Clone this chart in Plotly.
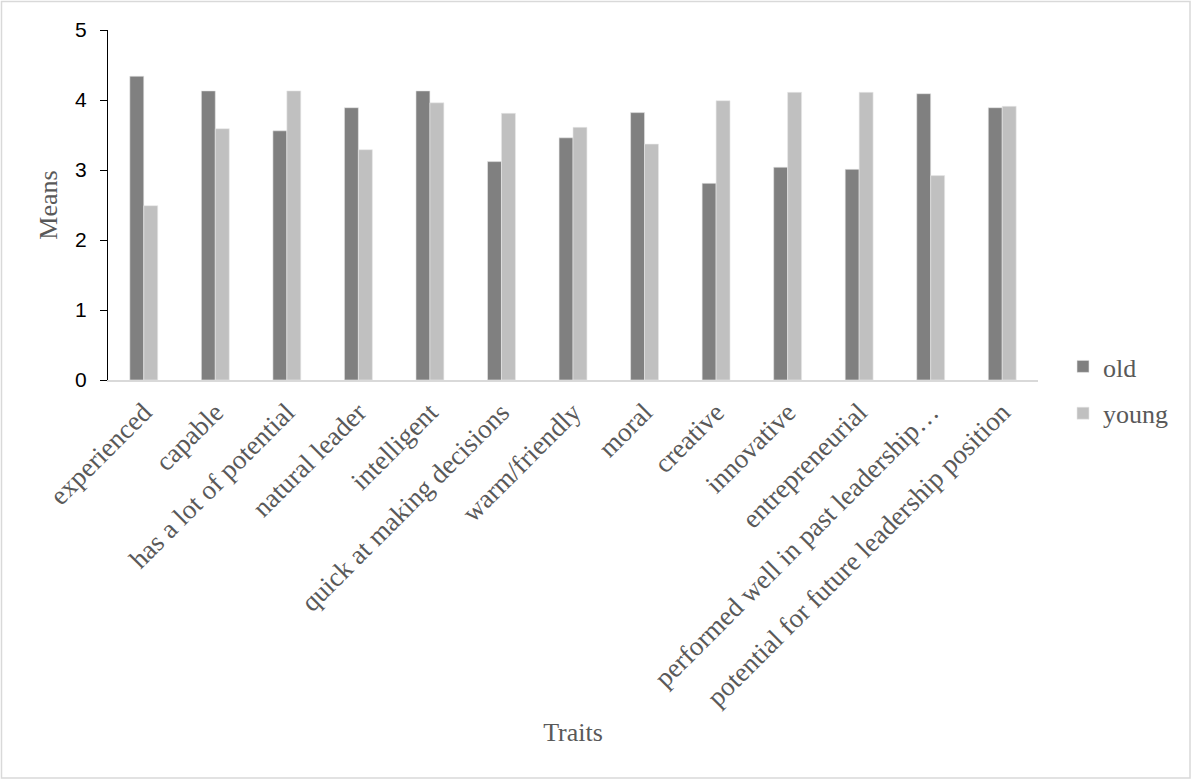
import plotly.graph_objects as go

traits = [
    "experienced", "capable", "has a lot of potential", "natural leader",
    "intelligent", "quick at making decisions", "warm/friendly", "moral",
    "creative", "innovative", "entrepreneurial",
    "performed well in past leadership\u2026",
    "potential for future leadership position",
]
old_means = [4.34, 4.13, 3.56, 3.89, 4.13, 3.12, 3.46, 3.82, 2.81, 3.04, 3.01, 4.09, 3.89]
young_means = [2.49, 3.59, 4.13, 3.29, 3.96, 3.81, 3.61, 3.37, 3.99, 4.11, 4.11, 2.92, 3.91]
y_ticks = [0, 1, 2, 3, 4, 5]

SERIF = "Liberation Serif, Times New Roman, serif"
SANS = "Liberation Sans, Arial, sans-serif"
GRAY_TXT = "#595959"

fig = go.Figure()
fig.add_trace(go.Bar(x=traits, y=old_means, name="old", legendgroup="old",
                     marker=dict(color="#808080", line=dict(color="#e8e8e8", width=0.6))))
fig.add_trace(go.Bar(x=traits, y=young_means, name="young", legendgroup="young",
                     marker=dict(color="#c0c0c0", line=dict(color="#e8e8e8", width=0.6))))

L, R, T, B = 108, 154, 30, 400
W, H = 1192, 780
pw, ph = W - L - R, H - T - B

fig.update_layout(
    width=W, height=H,
    margin=dict(l=L, r=R, t=T, b=B, autoexpand=False),
    paper_bgcolor="white", plot_bgcolor="white",
    barmode="group", bargap=0.61, bargroupgap=0,
    showlegend=True,
    legend=dict(
        x=(1063 - L) / pw, xanchor="left",
        y=(T + ph - 343) / ph, yanchor="top",
        font=dict(family=SERIF, size=26, color=GRAY_TXT),
        traceorder="grouped", tracegroupgap=10,
        bgcolor="rgba(0,0,0,0)", borderwidth=0,
    ),
    xaxis=dict(
        showline=True, linecolor="#d9d9d9", linewidth=1.5,
        ticks="", showgrid=False, zeroline=False,
        tickangle=-45,
        tickfont=dict(family=SERIF, size=27, color=GRAY_TXT),
        ticklabelstandoff=4,
        title=dict(text="Traits", font=dict(family=SERIF, size=26, color=GRAY_TXT), standoff=12),
        automargin=False,
    ),
    yaxis=dict(
        range=[0, 5], tickmode="array", tickvals=y_ticks,
        showline=True, linecolor="black", linewidth=1,
        ticks="outside", ticklen=7, tickcolor="black", tickwidth=1,
        showgrid=False, zeroline=False,
        tickfont=dict(family=SANS, size=21, color="black"),
        ticklabelstandoff=9,
        title=dict(text="Means", font=dict(family=SERIF, size=26, color=GRAY_TXT), standoff=10),
        automargin=False,
    ),
    shapes=[dict(
        type="rect", xref="paper", yref="paper",
        x0=(1.5 - L) / pw, x1=(1190 - L) / pw,
        y0=(T + ph - 778) / ph, y1=(T + ph - 1.5) / ph,
        line=dict(color="#d9d9d9", width=1.5), fillcolor="rgba(0,0,0,0)", layer="below",
    )],
)

fig.write_html("out.html")
